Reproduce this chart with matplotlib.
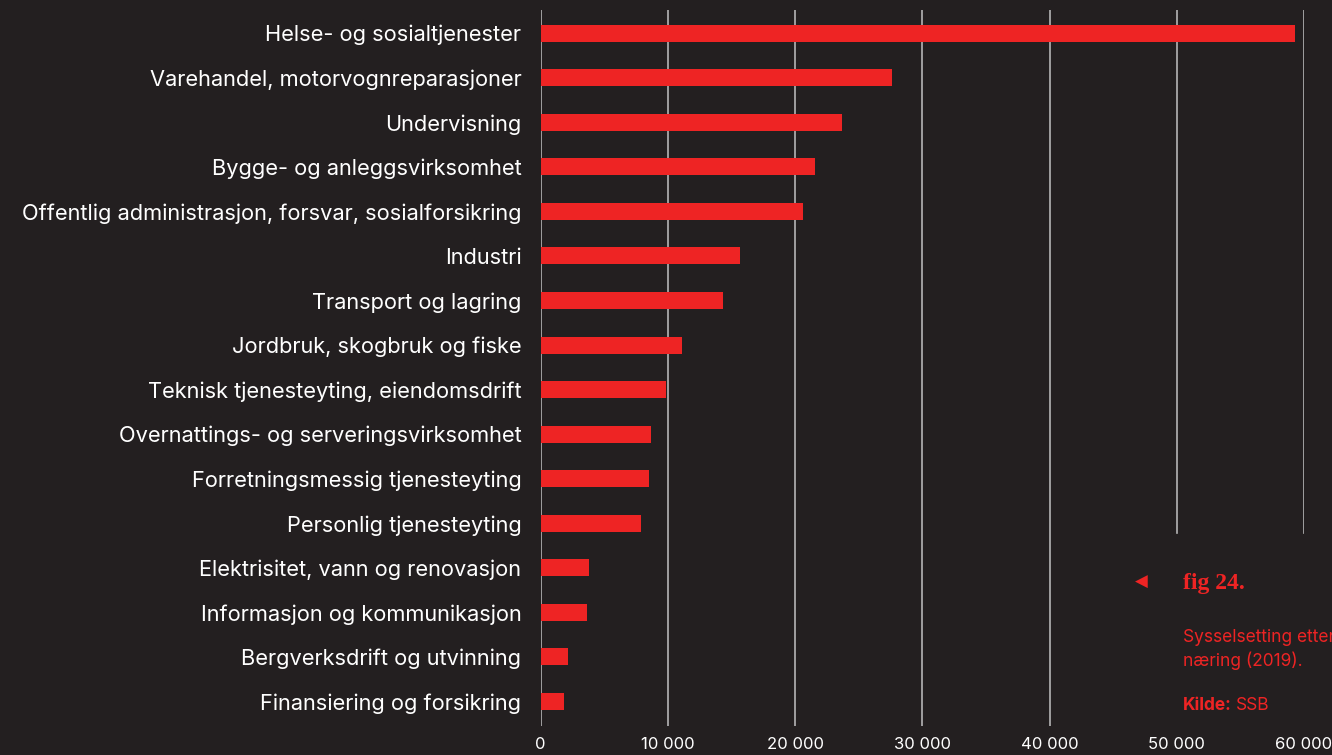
import matplotlib
matplotlib.use("Agg")
import matplotlib.pyplot as plt

# Sysselsetting etter næring (2019), kilde: SSB
naeringer = [
    "Helse- og sosialtjenester",
    "Varehandel, motorvognreparasjoner",
    "Undervisning",
    "Bygge- og anleggsvirksomhet",
    "Offentlig administrasjon, forsvar, sosialforsikring",
    "Industri",
    "Transport og lagring",
    "Jordbruk, skogbruk og fiske",
    "Teknisk tjenesteyting, eiendomsdrift",
    "Overnattings- og serveringsvirksomhet",
    "Forretningsmessig tjenesteyting",
    "Personlig tjenesteyting",
    "Elektrisitet, vann og renovasjon",
    "Informasjon og kommunikasjon",
    "Bergverksdrift og utvinning",
    "Finansiering og forsikring",
]
sysselsatte = [59300, 27600, 23700, 21600, 20600, 15700, 14300, 11100,
               9850, 8650, 8500, 7900, 3800, 3650, 2150, 1850]
ticks = [0, 10000, 20000, 30000, 40000, 50000, 60000]
tick_labels = ["0", "10 000", "20 000", "30 000", "40 000", "50 000", "60 000"]

bg = "#231f20"
red = "#ee2424"
plt.rcParams["font.family"] = ["Inter", "DejaVu Sans"]

fig = plt.figure(figsize=(13.32, 7.55), dpi=100, facecolor=bg)
ax = fig.add_axes([540.7 / 1332, (755 - 726) / 755, (1304 - 540.7) / 1332, (726 - 10) / 755])
ax.set_facecolor(bg)

pos = list(range(len(naeringer)))
ax.set_xlim(0, 60000)
ax.set_ylim(15.55, -0.52)

# gridlines (the two rightmost stop above the figure note)
for t in ticks:
    bottom = 0.0 if t <= 40000 else (726 - 533) / (726 - 10)
    ax.axvline(t, ymin=bottom, ymax=1.0, color="#b5b5b5", lw=1.2, zorder=1)

ax.barh(pos, sysselsatte, height=0.38, color=red, zorder=2)

ax.set_yticks(pos)
ax.set_yticklabels(naeringer, color="white", fontsize=15.7)
ax.set_xticks(ticks)
ax.set_xticklabels(tick_labels, color="white", fontsize=12)
ax.tick_params(axis="y", length=0, pad=14)
ax.tick_params(axis="x", length=0, pad=8)
for s in ax.spines.values():
    s.set_visible(False)

# figure note (the first line runs past the right edge, as in the original)
fig.text(1141 / 1332, 1 - 582 / 755, "\u25c0", color=red, fontsize=12, va="center",
         ha="center", family=["DejaVu Sans"])
fig.text(1183 / 1332, 1 - 583 / 755, "fig 24.", color=red, fontsize=17, va="center",
         family=["Liberation Serif"], fontweight="bold")
fig.text(1183 / 1332, 1 - 637 / 755, "Sysselsetting etter", color=red, fontsize=12.5, va="center")
fig.text(1183 / 1332, 1 - 661 / 755, "næring (2019).", color=red, fontsize=12.5, va="center")
kilde = fig.text(1183 / 1332, 1 - 705 / 755, "Kilde:", color=red, fontsize=12.5, va="center",
                 fontweight="bold")
fig.canvas.draw()
x1 = kilde.get_window_extent().x1
fig.text((x1 + 4) / 1332, 1 - 705 / 755, "SSB", color=red, fontsize=12.5, va="center")

fig.savefig("out.png", dpi=100, facecolor=bg)
